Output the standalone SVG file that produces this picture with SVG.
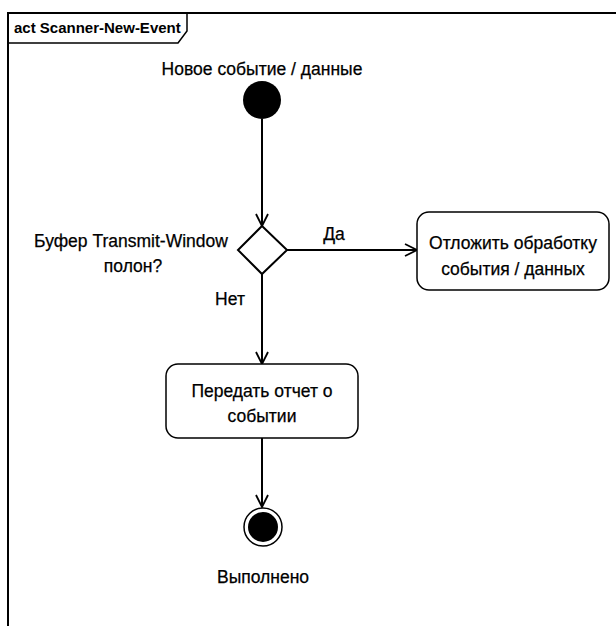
<svg xmlns="http://www.w3.org/2000/svg" width="616" height="626" viewBox="0 0 616 626">
<style>
text{font-family:"Liberation Sans","Noto Sans",sans-serif;font-size:17.5px;fill:#000;stroke:#000;stroke-width:0.25;}
.c{text-anchor:middle;}
.line{stroke:#000;stroke-width:2;fill:none;}
.box{fill:#fff;stroke:#000;stroke-width:1.5;}
</style>
<defs>
<marker id="arr" markerWidth="16" markerHeight="16" refX="13" refY="8" orient="auto" markerUnits="userSpaceOnUse">
<path d="M1,2 L13,8 L1,14" fill="none" stroke="#000" stroke-width="1.8"/>
</marker>
</defs>
<rect width="616" height="626" fill="#fff"/>
<g id="frame">
<path d="M8,626 L8,13 L616,13" class="line"/>
<path d="M8,43 L178,43 L187,31 L187,13" fill="none" stroke="#000" stroke-width="1.5"/>
<text x="14" y="33" style="font-weight:bold;font-size:15px;stroke-width:0">act Scanner-New-Event</text>
</g>
<g id="connectors">
<line x1="262" y1="119" x2="262" y2="226" class="line" marker-end="url(#arr)"/>
<line x1="287" y1="250" x2="417" y2="250" class="line" marker-end="url(#arr)"/>
<line x1="262" y1="274" x2="262" y2="364" class="line" marker-end="url(#arr)"/>
<line x1="262" y1="438" x2="262" y2="507" class="line" marker-end="url(#arr)"/>
<text x="334" y="240" class="c">Да</text>
<text x="230" y="305" class="c">Нет</text>
</g>
<g id="start">
<text x="262" y="75" class="c">Новое событие / данные</text>
<circle cx="262" cy="100" r="19" fill="#000"/>
</g>
<g id="decision">
<path d="M262,226 L287,250 L262,274 L238,250 Z" class="box" style="stroke-width:2"/>
<text x="131" y="247" class="c">Буфер Transmit-Window</text>
<text x="133" y="272" class="c">полон?</text>
</g>
<g id="defer">
<rect x="417" y="212" width="192" height="78" rx="12" class="box"/>
<text x="513" y="249" class="c">Отложить обработку</text>
<text x="513" y="275" class="c">события / данных</text>
</g>
<g id="send">
<rect x="166" y="364" width="192" height="74" rx="12" class="box"/>
<text x="262" y="397" class="c">Передать отчет о</text>
<text x="262" y="422" class="c">событии</text>
</g>
<g id="final">
<circle cx="263" cy="527" r="19" fill="#fff" stroke="#000" stroke-width="1.5"/>
<circle cx="263" cy="527" r="15" fill="#000"/>
<text x="263" y="583" class="c">Выполнено</text>
</g>
</svg>
